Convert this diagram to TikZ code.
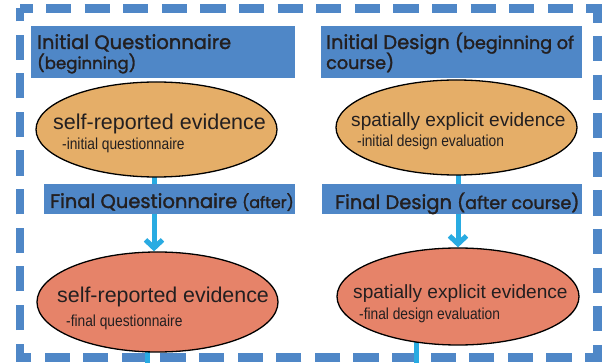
\documentclass[tikz,border=0pt]{standalone}
\usepackage{fontspec}
\setmainfont{Liberation Sans}
\newfontfamily\headfont[FakeBold=1.6]{Poppins}
\newfontfamily\narrowfont[FakeStretch=0.86]{Liberation Sans}
\usetikzlibrary{arrows.meta,shapes.geometric}
\definecolor{boxblue}{RGB}{79,135,199}
\definecolor{arrowblue}{RGB}{41,171,226}
\definecolor{evorange}{RGB}{229,174,104}
\definecolor{evsalmon}{RGB}{230,131,105}
\definecolor{inkdark}{RGB}{35,31,32}
\tikzset{
  frameline/.style={draw=boxblue, line width=8.5pt, dash pattern=on 25.2pt off 13.4pt, dash phase=12.6pt},
  hbox/.style={fill=boxblue, draw=none, rectangle, inner sep=0pt},
  evbox/.style={ellipse, draw=black, line width=1.3pt, inner sep=0pt},
  flow/.style={draw=arrowblue, line width=5pt},
  flowarrow/.style={flow, -{Straight Barb[length=8pt,width=17pt]}},
  headtxt/.style={anchor=base west, inner sep=0pt, text=inkdark, font=\headfont\fontsize{19.5}{22}\selectfont},
  bigtxt/.style={anchor=base west, inner sep=0pt, text=inkdark},
  smalltxt/.style={anchor=base west, inner sep=0pt, text=inkdark, font=\narrowfont\fontsize{16}{18}\selectfont},
}
\newcommand{\paren}[2][16.6]{{\fontsize{#1}{19}\selectfont #2}}
\begin{document}
\begin{tikzpicture}[x=1pt,y=-1pt]
\useasboundingbox (0,0) rectangle (608,363);
\fill[white] (0,0) rectangle (608,363);
% frame
\coordinate (ftl) at (20,8.5);
\coordinate (ftr) at (597.5,8.5);
\coordinate (fbr) at (597.5,357.5);
\coordinate (fbl) at (20,357.5);
\draw[frameline] (ftl) -- (ftr) -- (fbr) -- (fbl) -- cycle;
% ellipses (positions)
\coordinate (e1c) at (156.5,129.5);
\coordinate (e2c) at (456.5,127.5);
\coordinate (e3c) at (157.5,302);
\coordinate (e4c) at (458,296.5);
% connector columns
\coordinate (ax1) at (154,0);
\coordinate (ax2) at (458,0);
\coordinate (bx1) at (147,363);
\coordinate (bx2) at (416,363);
\node[evbox, minimum width=241pt, minimum height=95pt, draw=none] (e1) at (e1c) {};
\node[evbox, minimum width=241pt, minimum height=95pt, draw=none] (e2) at (e2c) {};
\node[evbox, minimum width=241pt, minimum height=100pt, draw=none] (e3) at (e3c) {};
\node[evbox, minimum width=242pt, minimum height=97pt, draw=none] (e4) at (e4c) {};
% connectors
\draw[flowarrow] (e1.center -| ax1) -- (e3.north -| ax1);
\draw[flowarrow] (e2.center -| ax2) -- (e4.north -| ax2);
\draw[flow] (e3.center -| bx1) -- (bx1);
\draw[flow] (e4.center -| bx2) -- (bx2);
% ellipses drawn
\node[evbox, fill=evorange, minimum width=241pt, minimum height=95pt] (e1d) at (e1c) {};
\node[evbox, fill=evorange, minimum width=241pt, minimum height=95pt] (e2d) at (e2c) {};
\node[evbox, fill=evsalmon, minimum width=241pt, minimum height=100pt] (e3d) at (e3c) {};
\node[evbox, fill=evsalmon, minimum width=242pt, minimum height=97pt] (e4d) at (e4c) {};
% header boxes
\node[hbox, minimum width=264pt, minimum height=52pt] (h1) at (163,52) {};
\node[hbox, minimum width=261pt, minimum height=52pt] (h2) at (451.5,52) {};
\node[hbox, minimum width=251pt, minimum height=30pt] (h3) at (169.5,199) {};
\node[hbox, minimum width=260pt, minimum height=30pt] (h4) at (452,199) {};
% header texts
\node[headtxt] (h1a) at (37,49) {Initial Questionnaire};
\node[headtxt] (h1b) at (37,69) {\paren{(beginning)}};
\node[headtxt] (h2a) at (326,49) {Initial Design \paren[17.6]{(beginning of}};
\node[headtxt] (h2b) at (326,69) {\paren[17.6]{course)}};
\node[headtxt] (h3a) at (50,208) {Final Questionnaire\hspace{0.25em}\paren[15.8]{(after)}};
\node[headtxt] (h4a) at (335,209) {Final Design \paren[17.6]{(after course)}};
% ellipse texts
\node[bigtxt, font=\fontsize{21.5}{24}\selectfont] (t1a) at (53,130) {self-reported evidence};
\node[smalltxt] (t1b) at (62,150) {-initial questionnaire};
\node[bigtxt, font=\fontsize{19.1}{22}\selectfont] (t2a) at (351,127) {spatially explicit evidence};
\node[smalltxt] (t2b) at (357,147) {-initial design evaluation};
\node[bigtxt, font=\fontsize{21.4}{24}\selectfont] (t3a) at (57,302.7) {self-reported evidence};
\node[smalltxt] (t3b) at (66,326.7) {-final questionnaire};
\node[bigtxt, font=\fontsize{19.1}{22}\selectfont] (t4a) at (353,299) {spatially explicit evidence};
\node[smalltxt] (t4b) at (359,320) {-final design evaluation};
\end{tikzpicture}
\end{document}
